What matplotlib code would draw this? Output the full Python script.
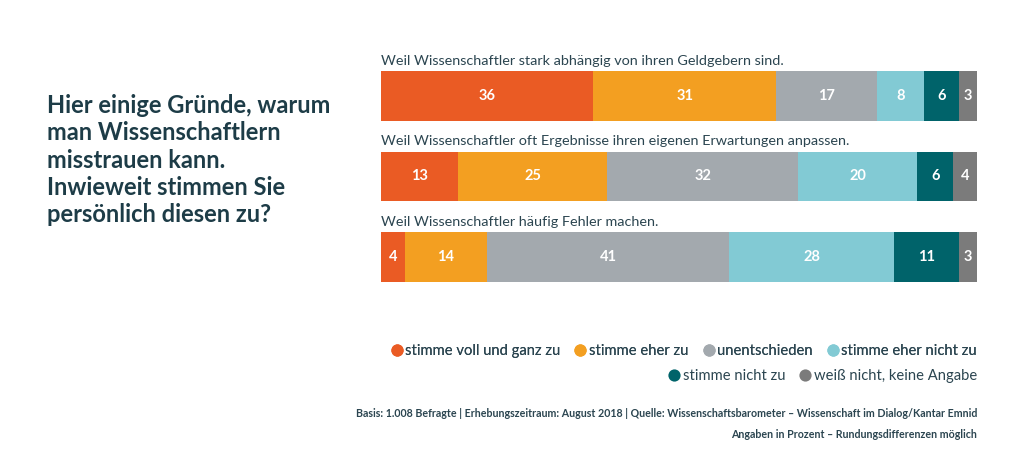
import matplotlib
matplotlib.use("Agg")
import matplotlib.pyplot as plt
from matplotlib.lines import Line2D
import numpy as np

plt.rcParams['font.family'] = ['Lato', 'DejaVu Sans']

questions = [
    "Weil Wissenschaftler stark abhängig von ihren Geldgebern sind.",
    "Weil Wissenschaftler oft Ergebnisse ihren eigenen Erwartungen anpassen.",
    "Weil Wissenschaftler häufig Fehler machen.",
]
categories = ["stimme voll und ganz zu", "stimme eher zu", "unentschieden",
              "stimme eher nicht zu", "stimme nicht zu", "weiß nicht, keine Angabe"]
voll = [36, 13, 4]
eher = [31, 25, 14]
unent = [17, 32, 41]
eher_nicht = [8, 20, 28]
nicht = [6, 6, 11]
weiss = [3, 4, 3]
series = [voll, eher, unent, eher_nicht, nicht, weiss]
colors = ["#EA5B24", "#F39F21", "#A3A9AE", "#82CAD4", "#00636A", "#7B7B7B"]

title = "Hier einige Gründe, warum\nman Wissenschaftlern\nmisstrauen kann.\nInwieweit stimmen Sie\npersönlich diesen zu?"
foot1 = "Basis: 1.008 Befragte | Erhebungszeitraum: August 2018 | Quelle: Wissenschaftsbarometer – Wissenschaft im Dialog/Kantar Emnid"
foot2 = "Angaben in Prozent – Rundungsdifferenzen möglich"

text_col = "#2B4550"

fig = plt.figure(figsize=(10.24, 4.73), dpi=100)
W, H = 1024, 473
x0, x1 = 381, 977
ytop, ybot = 71, 282
ax = fig.add_axes([x0 / W, 1 - ybot / H, (x1 - x0) / W, (ybot - ytop) / H])

h = 50 / 81
data = np.array(series, dtype=float)  # shape (6, 3)
totals = data.sum(axis=0)
for q in range(len(questions)):
    left = 0.0
    for c in range(len(categories)):
        v = data[c, q]
        w = v / totals[q] * 100
        ax.barh(q, w, left=left, height=h, color=colors[c], edgecolor='none')
        ax.text(left + w / 2, q, f"{int(v)}", ha='center', va='center',
                color='white', fontsize=10.5, fontweight='bold')
        left += w
    ax.annotate(questions[q], xy=(0, q - h / 2), xytext=(0, 3), textcoords='offset points',
                ha='left', va='bottom', fontsize=10.4, color=text_col)

ax.set_xlim(0, 100)
ax.set_ylim(2 + h / 2, -h / 2)
ax.axis('off')

fig.text(47 / W, 1 - 94 / H, title, ha='left', va='top', fontsize=17,
         fontweight='bold', color="#1D3C47", linespacing=1.23)

def handles(idx):
    return [Line2D([0], [0], marker='o', color='none', markerfacecolor=colors[i],
                   markeredgecolor='none', markersize=8.8, label=categories[i]) for i in idx]

common = dict(frameon=False, fontsize=10.6, handletextpad=0.15, columnspacing=0.95,
              handlelength=0.85, borderpad=0, borderaxespad=0, labelcolor=text_col)
leg1 = fig.legend(handles=handles([0, 1, 2, 3]), loc='center right',
                  bbox_to_anchor=(x1 / W, 1 - 351 / H), ncol=4, **common)
fig.add_artist(leg1)
fig.legend(handles=handles([4, 5]), loc='center right',
           bbox_to_anchor=(x1 / W, 1 - 376 / H), ncol=2, **common)

fig.text(x1 / W, 1 - 413 / H, foot1, ha='right', va='center', fontsize=7.7,
         fontweight='bold', color=text_col)
fig.text(x1 / W, 1 - 434 / H, foot2, ha='right', va='center', fontsize=7.7,
         fontweight='bold', color=text_col)

fig.savefig("out.png", dpi=100, facecolor='white')
